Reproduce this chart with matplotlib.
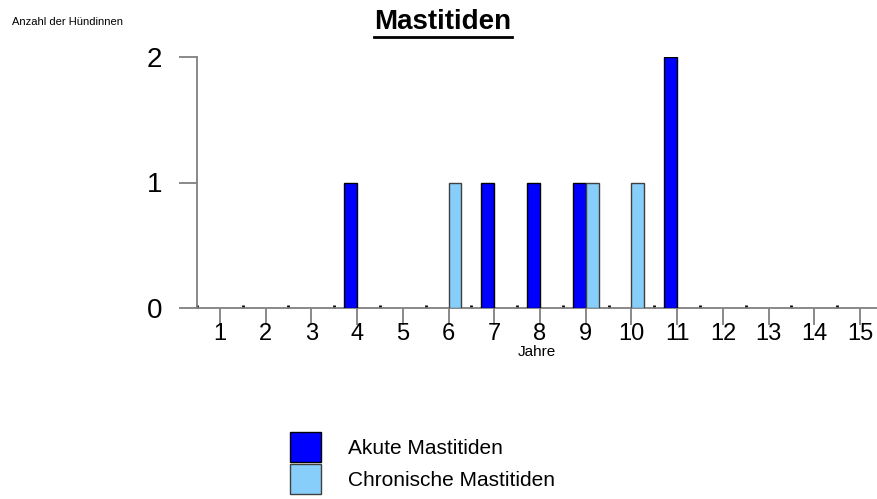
import matplotlib
matplotlib.use("Agg")
import matplotlib.pyplot as plt
from matplotlib.patches import Patch
from matplotlib.lines import Line2D
import numpy as np

plt.rcParams['font.family'] = ['Liberation Sans', 'DejaVu Sans']

# data
jahre = list(range(1, 16))
akute = [0, 0, 0, 1, 0, 0, 1, 1, 1, 0, 2, 0, 0, 0, 0]
chronische = [0, 0, 0, 0, 0, 1, 0, 0, 1, 1, 0, 0, 0, 0, 0]
series_names = ['Akute Mastitiden', 'Chronische Mastitiden']
colors = ['#0000FF', '#87CEFA']

fig = plt.figure(figsize=(8.77, 4.99), dpi=100)
ax = fig.add_axes([197 / 877, 1 - 308 / 499, 1 - 197 / 877, (308 - 57) / 499])

x = np.array(jahre)
w = 0.28
ak = np.array(akute)
ch = np.array(chronische)
ax.bar(x[ak > 0] - 0.14, ak[ak > 0], width=w, color=colors[0], edgecolor='black', linewidth=1, zorder=3)
ax.bar(x[ch > 0] + 0.14, ch[ch > 0], width=w, color=colors[1], edgecolor='#404040', linewidth=1, zorder=3)

ax.set_xlim(0.52, 15.37)
ax.set_ylim(0, 2)

for s in ['top', 'right']:
    ax.spines[s].set_visible(False)
for s in ['left', 'bottom']:
    ax.spines[s].set_color('#808080')
    ax.spines[s].set_linewidth(1.3)

ax.set_xticks(jahre)
ax.set_xticks([j + 0.5 for j in jahre[:-1]] + [0.5], minor=True)
ax.set_yticks([0, 1, 2])
ax.tick_params(axis='x', which='major', direction='out', length=12, width=1.3,
               color='#808080', labelsize=17, pad=-1)
ax.tick_params(axis='x', which='minor', direction='in', length=2, width=2, color='black')
ax.tick_params(axis='y', which='major', direction='out', length=13, width=1.3,
               color='#808080', labelsize=20, pad=12)
ax.set_xlabel('Jahre', fontsize=11, labelpad=0)

fig.text(12 / 877, 1 - 22 / 499, 'Anzahl der Hündinnen', fontsize=8, va='center', ha='left')

title = fig.text(443 / 877, 1 - 22 / 499, 'Mastitiden', fontsize=20, fontweight='bold',
                 ha='center', va='center')
fig.canvas.draw()
bb = title.get_window_extent()
uy = bb.y0 - 2
fig.add_artist(Line2D([bb.x0, bb.x1], [uy, uy], transform=None, color='black', linewidth=2))

handles = [Patch(facecolor=colors[0], edgecolor='black'),
           Patch(facecolor=colors[1], edgecolor='#404040')]
fig.legend(handles, series_names, loc='center left', bbox_to_anchor=(282 / 877, 1 - 463 / 499),
           frameon=False, fontsize=15, handlelength=1.45, handleheight=1.85,
           handletextpad=1.3, labelspacing=0.1, borderaxespad=0)

fig.savefig('out.png', dpi=100)
